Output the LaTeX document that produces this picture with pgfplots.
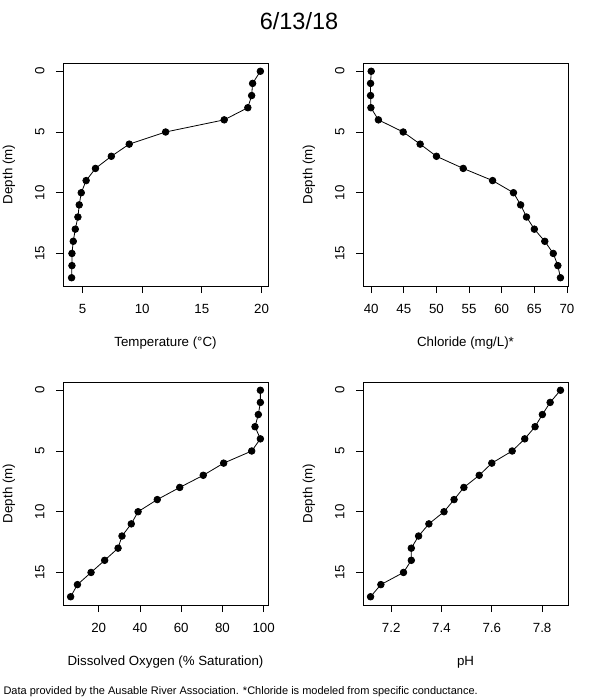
\documentclass[border=0pt]{standalone}
\usepackage{fontspec}
\setmainfont{Liberation Sans}
\usepackage{pgfplots}
\usepackage{pgfplotstable}
\pgfplotsset{compat=1.18}

% depth profiles, one table per variable
\pgfplotstableread{
depth val
0  19.90
1  19.25
2  19.17
3  18.85
4  16.87
5  11.96
6  8.91
7  7.41
8  6.08
9  5.30
10 4.89
11 4.72
12 4.61
13 4.39
14 4.22
15 4.11
16 4.11
17 4.08
}\temp
\pgfplotstableread{
depth val
0  40.0
1  39.9
2  39.9
3  39.95
4  41.1
5  44.9
6  47.5
7  50.0
8  54.1
9  58.6
10 61.8
11 62.9
12 63.8
13 65.0
14 66.6
15 67.9
16 68.6
17 69.0
}\chloride
\pgfplotstableread{
depth val
0  98.4
1  98.4
2  97.4
3  95.8
4  98.4
5  94.2
6  80.6
7  70.7
8  59.3
9  48.4
10 39.1
11 35.8
12 31.3
13 29.4
14 22.9
15 16.3
16 9.7
17 6.4
}\oxygen
\pgfplotstableread{
depth val
0  7.873
1  7.832
2  7.801
3  7.772
4  7.731
5  7.681
6  7.600
7  7.550
8  7.489
9  7.450
10 7.410
11 7.350
12 7.309
13 7.280
14 7.280
15 7.249
16 7.159
17 7.118
}\ph

\pgfplotsset{
  profile/.style={
    scale only axis, width=205pt, height=223pt,
    anchor=north west,
    font=\fontsize{13.3}{16}\selectfont,
    /pgf/number format/assume math mode=true,
    y dir=reverse, ymin=-0.68, ymax=17.68, ytick={0,5,10,15},
    tick pos=left, tick align=outside, major tick length=7pt,
    tick style={black, line width=0.8pt},
    axis line style={line width=0.8pt},
    yticklabel style={rotate=90, anchor=south},
    yticklabel shift=8pt,
    xticklabel shift=8pt,
    ylabel={Depth (m)},
    ylabel style={at={(axis description cs:-0.2634,0.5)}, anchor=center},
    xlabel style={at={(axis description cs:0.5,-0.2556)}, anchor=center},
  },
  dots/.style={black, line width=0.8pt, mark=*, mark size=3.3pt,
    mark options={fill=black, solid}},
}

\begin{document}
\begin{tikzpicture}
\path[use as bounding box] (0,0) rectangle (600pt,-700pt);

\node[font=\fontsize{23.5}{28}\selectfont] at (299pt,-21pt) {6/13/18};

\begin{axis}[profile, at={(63pt,-63pt)},
  xmin=3.36, xmax=20.54, xtick={5,10,15,20},
  xlabel={Temperature (°C)}]
\addplot[dots] table[x=val, y=depth] {\temp};
\end{axis}

\begin{axis}[profile, at={(363pt,-63pt)},
  xmin=38.74, xmax=70.16, xtick={40,45,...,70},
  xlabel={Chloride (mg/L)*}]
\addplot[dots] table[x=val, y=depth] {\chloride};
\end{axis}

\begin{axis}[profile, at={(63pt,-382pt)},
  xmin=2.7, xmax=102.1, xtick={20,40,60,80,100},
  xlabel={Dissolved Oxygen (\% Saturation)}]
\addplot[dots] table[x=val, y=depth] {\oxygen};
\end{axis}

\begin{axis}[profile, at={(363pt,-382pt)},
  xmin=7.088, xmax=7.903, xtick={7.2,7.4,7.6,7.8},
  xticklabel style={/pgf/number format/.cd, fixed, precision=1, fixed zerofill},
  xlabel={pH}]
\addplot[dots] table[x=val, y=depth] {\ph};
\end{axis}

\node[anchor=west, font=\fontsize{11}{13}\selectfont] at (0pt,-692pt)
  {Data provided by the Ausable River Association. *Chloride is modeled from specific conductance.};
\end{tikzpicture}
\end{document}
